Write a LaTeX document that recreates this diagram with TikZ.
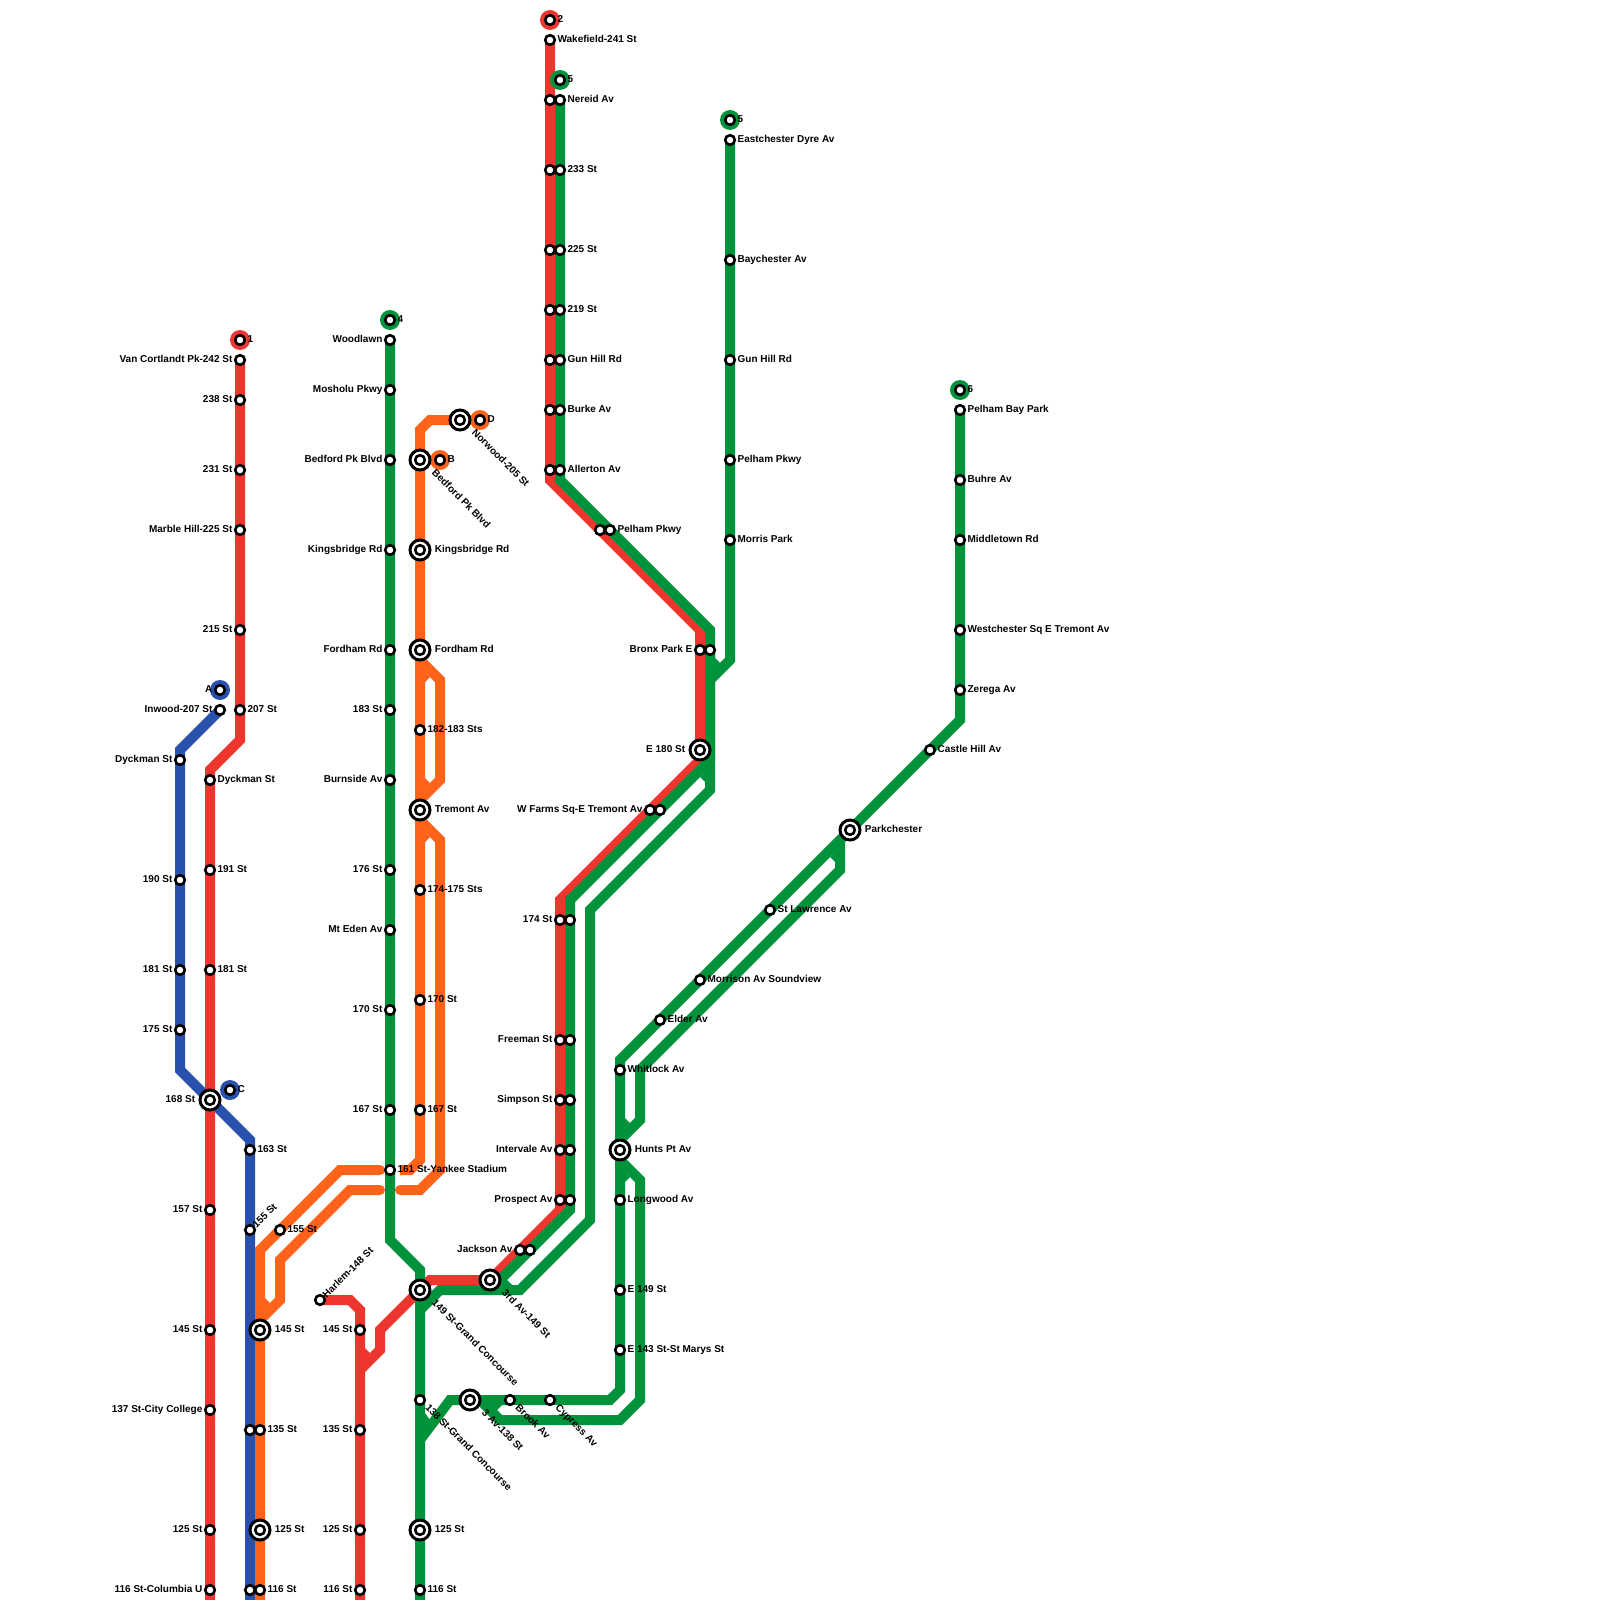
\documentclass[tikz,border=0pt]{standalone}
\usepackage{fontspec}
\setmainfont{Liberation Sans}
\usetikzlibrary{backgrounds}

\definecolor{linered}{HTML}{EE352E}
\definecolor{lineblue}{HTML}{2850AD}
\definecolor{lineorange}{HTML}{FF6319}
\definecolor{linegreen}{HTML}{00933C}

\tikzset{
  stn/.style={circle,draw=black,fill=white,line width=2.6pt,minimum size=9.6pt,inner sep=0pt,outer sep=0pt},
  hub/.style={stn,line width=3pt,minimum size=20pt,
    path picture={\draw[black,line width=2.6pt] (path picture bounding box.center) circle (4.8pt);}},
  lab/.style={font=\fontsize{10}{11}\selectfont\bfseries,inner sep=1pt,text=black,text height=7pt,text depth=0pt,yshift=1pt},
  lr/.style={label={[lab,label distance=1.6pt]right:#1}},
  ll/.style={label={[lab,label distance=1.6pt]left:#1}},
  lu/.style={label={[lab,label distance=2.2pt,rotate=45,anchor=west,xshift=-2.5pt,yshift=-2.5pt]45:#1}},
  ld/.style={label={[lab,label distance=2.2pt,rotate=-45,anchor=west,xshift=2.5pt,yshift=2pt]-45:#1}},
  hr/.style={label={[lab,label distance=3.7pt]right:#1}},
  hl/.style={label={[lab,label distance=3.7pt]left:#1}},
  hd/.style={label={[lab,label distance=3.7pt,rotate=-45,anchor=west,xshift=4.5pt,yshift=4pt]-45:#1}},
  track/.style={line width=10pt,miter limit=10},
  trackred/.style={track,draw=linered},
  trackblue/.style={track,draw=lineblue},
  trackorange/.style={track,draw=lineorange},
  trackgreen/.style={track,draw=linegreen},
}

\begin{document}
\begin{tikzpicture}[x=1pt,y=-1pt]
  \useasboundingbox (0,0) rectangle (1600,1600);

  % 1 line
  \node[stn,lr=1] (term1) at (240,340) {};
  \node[stn,ll={Van Cortlandt Pk-242 St}] (vancortlandt) at (240,360) {};
  \node[stn,ll={238 St}] (st238) at (240,400) {};
  \node[stn,ll={231 St}] (st231) at (240,470) {};
  \node[stn,ll={Marble Hill-225 St}] (marblehill) at (240,530) {};
  \node[stn,ll={215 St}] (st215) at (240,630) {};
  \node[stn,lr={207 St}] (st207) at (240,710) {};
  \node[stn,lr={Dyckman St}] (dyckman1) at (210,780) {};
  \node[stn,lr={191 St}] (st191) at (210,870) {};
  \node[stn,lr={181 St}] (st181r) at (210,970) {};
  \node[hub,hl={168 St}] (st168) at (210,1100) {};
  \node[stn,ll={157 St}] (st157) at (210,1210) {};
  \node[stn,ll={145 St}] (st145r) at (210,1330) {};
  \node[stn,ll={137 St-City College}] (st137) at (210,1410) {};
  \node[stn,ll={125 St}] (st125r) at (210,1530) {};
  \node[stn,ll={116 St-Columbia U}] (columbia) at (210,1590) {};

  % A and C lines
  \node[stn,ll=A] (termA) at (220,690) {};
  \node[stn,ll={Inwood-207 St}] (inwood) at (220,710) {};
  \node[stn,ll={Dyckman St}] (dyckmanA) at (180,760) {};
  \node[stn,ll={190 St}] (st190) at (180,880) {};
  \node[stn,ll={181 St}] (st181a) at (180,970) {};
  \node[stn,ll={175 St}] (st175) at (180,1030) {};
  \node[stn,lr=C] (termC) at (230,1090) {};
  \node[stn,lr={163 St}] (st163) at (250,1150) {};
  \node[stn,lu={155 St}] (st155a) at (250,1230) {};
  \node[stn] (st135a) at (250,1430) {};
  \node[stn] (st116a) at (250,1590) {};

  % B and D lines
  \node[stn,lr=D] (termD) at (480,420) {};
  \node[hub,hd={Norwood-205 St}] (norwood) at (460,420) {};
  \node[stn,lr=B] (termB) at (440,460) {};
  \node[hub,hd={Bedford Pk Blvd}] (bedfordo) at (420,460) {};
  \node[hub,hr={Kingsbridge Rd}] (kingsbridgeo) at (420,550) {};
  \node[hub,hr={Fordham Rd}] (fordhamo) at (420,650) {};
  \node[stn,lr={182-183 Sts}] (st182) at (420,730) {};
  \node[hub,hr={Tremont Av}] (tremont) at (420,810) {};
  \node[stn,lr={174-175 Sts}] (st174o) at (420,890) {};
  \node[stn,lr={170 St}] (st170o) at (420,1000) {};
  \node[stn,lr={167 St}] (st167o) at (420,1110) {};
  \node[stn,lr={155 St}] (st155o) at (280,1230) {};
  \node[hub,hr={145 St}] (st145o) at (260,1330) {};
  \node[stn,lr={135 St}] (st135o) at (260,1430) {};
  \node[hub,hr={125 St}] (st125o) at (260,1530) {};
  \node[stn,lr={116 St}] (st116o) at (260,1590) {};

  % 4 line
  \node[stn,lr=4] (term4) at (390,320) {};
  \node[stn,ll=Woodlawn] (woodlawn) at (390,340) {};
  \node[stn,ll={Mosholu Pkwy}] (mosholu) at (390,390) {};
  \node[stn,ll={Bedford Pk Blvd}] (bedfordg) at (390,460) {};
  \node[stn,ll={Kingsbridge Rd}] (kingsbridgeg) at (390,550) {};
  \node[stn,ll={Fordham Rd}] (fordhamg) at (390,650) {};
  \node[stn,ll={183 St}] (st183) at (390,710) {};
  \node[stn,ll={Burnside Av}] (burnside) at (390,780) {};
  \node[stn,ll={176 St}] (st176) at (390,870) {};
  \node[stn,ll={Mt Eden Av}] (mteden) at (390,930) {};
  \node[stn,ll={170 St}] (st170g) at (390,1010) {};
  \node[stn,ll={167 St}] (st167g) at (390,1110) {};
  \node[stn,lr={161 St-Yankee Stadium}] (yankee) at (390,1170) {};
  \node[hub,hd={149 St-Grand Concourse}] (grand149) at (420,1290) {};
  \node[stn,ld={138 St-Grand Concourse}] (grand138) at (420,1400) {};
  \node[hub,hr={125 St}] (st125g) at (420,1530) {};
  \node[stn,lr={116 St}] (st116g) at (420,1590) {};

  % 2 and 5 lines
  \node[stn,lr=2] (term2) at (550,20) {};
  \node[stn,lr={Wakefield-241 St}] (wakefield) at (550,40) {};
  \node[stn,lr=5] (term5) at (560,80) {};
  \node[stn] (nereidr) at (550,100) {};
  \node[stn,lr={Nereid Av}] (nereidg) at (560,100) {};
  \node[stn] (st233r) at (550,170) {};
  \node[stn,lr={233 St}] (st233g) at (560,170) {};
  \node[stn] (st225r) at (550,250) {};
  \node[stn,lr={225 St}] (st225g) at (560,250) {};
  \node[stn] (st219r) at (550,310) {};
  \node[stn,lr={219 St}] (st219g) at (560,310) {};
  \node[stn] (gunhillr) at (550,360) {};
  \node[stn,lr={Gun Hill Rd}] (gunhillg) at (560,360) {};
  \node[stn] (burker) at (550,410) {};
  \node[stn,lr={Burke Av}] (burkeg) at (560,410) {};
  \node[stn] (allertonr) at (550,470) {};
  \node[stn,lr={Allerton Av}] (allertong) at (560,470) {};
  \node[stn] (pelhamr) at (600,530) {};
  \node[stn,lr={Pelham Pkwy}] (pelhamg) at (610,530) {};
  \node[stn,ll={Bronx Park E}] (bronxr) at (700,650) {};
  \node[stn] (bronxg) at (710,650) {};
  \node[hub,hl={E 180 St}] (e180) at (700,750) {};
  \node[stn,ll={W Farms Sq-E Tremont Av}] (wfarmsr) at (650,810) {};
  \node[stn] (wfarmsg) at (660,810) {};
  \node[stn,ll={174 St}] (st174r) at (560,920) {};
  \node[stn] (st174g) at (570,920) {};
  \node[stn,ll={Freeman St}] (freemanr) at (560,1040) {};
  \node[stn] (freemang) at (570,1040) {};
  \node[stn,ll={Simpson St}] (simpsonr) at (560,1100) {};
  \node[stn] (simpsong) at (570,1100) {};
  \node[stn,ll={Intervale Av}] (intervaler) at (560,1150) {};
  \node[stn] (intervaleg) at (570,1150) {};
  \node[stn,ll={Prospect Av}] (prospectr) at (560,1200) {};
  \node[stn] (prospectg) at (570,1200) {};
  \node[stn,ll={Jackson Av}] (jacksonr) at (520,1250) {};
  \node[stn] (jacksong) at (530,1250) {};
  \node[hub,hd={3rd Av-149 St}] (third149) at (490,1280) {};
  \node[stn,lu={Harlem-148 St}] (harlem) at (320,1300) {};
  \node[stn,ll={145 St}] (st145h) at (360,1330) {};
  \node[stn,ll={135 St}] (st135h) at (360,1430) {};
  \node[stn,ll={125 St}] (st125h) at (360,1530) {};
  \node[stn,ll={116 St}] (st116h) at (360,1590) {};

  % Dyre Av branch
  \node[stn,lr=5] (termdyre) at (730,120) {};
  \node[stn,lr={Eastchester Dyre Av}] (dyre) at (730,140) {};
  \node[stn,lr={Baychester Av}] (baychester) at (730,260) {};
  \node[stn,lr={Gun Hill Rd}] (gunhilld) at (730,360) {};
  \node[stn,lr={Pelham Pkwy}] (pelhamd) at (730,460) {};
  \node[stn,lr={Morris Park}] (morris) at (730,540) {};

  % 6 line
  \node[stn,lr=6] (term6) at (960,390) {};
  \node[stn,lr={Pelham Bay Park}] (pelhambay) at (960,410) {};
  \node[stn,lr={Buhre Av}] (buhre) at (960,480) {};
  \node[stn,lr={Middletown Rd}] (middletown) at (960,540) {};
  \node[stn,lr={Westchester Sq E Tremont Av}] (westchester) at (960,630) {};
  \node[stn,lr={Zerega Av}] (zerega) at (960,690) {};
  \node[stn,lr={Castle Hill Av}] (castle) at (930,750) {};
  \node[hub,hr={Parkchester}] (parkchester) at (850,830) {};
  \node[stn,lr={St Lawrence Av}] (lawrence) at (770,910) {};
  \node[stn,lr={Morrison Av Soundview}] (morrison) at (700,980) {};
  \node[stn,lr={Elder Av}] (elder) at (660,1020) {};
  \node[stn,lr={Whitlock Av}] (whitlock) at (620,1070) {};
  \node[hub,hr={Hunts Pt Av}] (hunts) at (620,1150) {};
  \node[stn,lr={Longwood Av}] (longwood) at (620,1200) {};
  \node[stn,lr={E 149 St}] (e149) at (620,1290) {};
  \node[stn,lr={E 143 St-St Marys St}] (e143) at (620,1350) {};
  \node[stn,ld={Cypress Av}] (cypress) at (550,1400) {};
  \node[stn,ld={Brook Av}] (brook) at (510,1400) {};
  \node[hub,hd={3 Av-138 St}] (third138) at (470,1400) {};

  \begin{scope}[on background layer]
    \draw[trackblue] (inwood.center) -- (180,750) -- (180,1070) -- (250,1140) -- (250,1600);
    \fill[lineblue] (termA.center) circle (10pt);
    \fill[lineblue] (termC.center) circle (10pt);

    \draw[trackred] (vancortlandt.center) -- (240,740) -- (210,770) -- (210,1600);
    \draw[trackred] (harlem.center) -- (350,1300) -- (360,1310) -- (360,1600);
    \draw[trackred] (wakefield.center) -- (550,480) -- (700,630) -- (700,760) -- (560,900) -- (560,1210) -- (third149.center) -- (430,1280) -- (grand149.center) -- (380,1330) -- (380,1350) -- (360,1370);
    \fill[linered] (365,1348) -- (370,1353) -- (365,1358) -- cycle;
    \fill[linered] (term1.center) circle (10pt);
    \fill[linered] (term2.center) circle (10pt);

    \draw[trackorange] (norwood.center) -- (430,420) -- (420,430) -- (420,1160) -- (410,1170) -- (400,1170);
    \draw[trackorange] (fordhamo.center) -- (420,660) -- (440,680) -- (440,780) -- (420,800) -- (tremont.center);
    \draw[trackorange,line cap=round] (tremont.center) -- (420,820) -- (440,840) -- (440,1170) -- (420,1190) -- (400,1190);
    \draw[trackorange,line cap=round] (380,1170) -- (340,1170) -- (260,1250) -- (260,1600);
    \draw[trackorange,line cap=round] (380,1190) -- (350,1190) -- (280,1260) -- (280,1300) -- (260,1320);
    \fill[lineorange] (425,672) -- (430,677) -- (425,682) -- cycle;
    \fill[lineorange] (425,778) -- (430,783) -- (425,788) -- cycle;
    \fill[lineorange] (425,832) -- (430,837) -- (425,842) -- cycle;
    \fill[lineorange] (265,1298) -- (270,1303) -- (265,1308) -- cycle;
    \fill[lineorange] (termD.center) circle (10pt);
    \fill[lineorange] (termB.center) circle (10pt);

    \draw[trackgreen] (woodlawn.center) -- (390,1240) -- (420,1270) -- (420,1600);
    \draw[trackgreen] (nereidg.center) -- (560,480) -- (710,630) -- (710,760) -- (570,900) -- (570,1210) -- (500,1280) -- (510,1290);
    \draw[trackgreen] (bronxg.center) -- (710,790) -- (590,910) -- (590,1220) -- (520,1290) -- (440,1290) -- (420,1310);
    \draw[trackgreen] (dyre.center) -- (730,660) -- (710,680);
    \draw[trackgreen] (pelhambay.center) -- (960,720) -- (620,1060) -- (620,1390) -- (610,1400) -- (450,1400) -- (420,1440);
    \draw[trackgreen] (840,840) -- (840,870) -- (640,1070) -- (640,1120) -- (620,1140);
    \draw[trackgreen] (620,1160) -- (640,1180) -- (640,1400) -- (620,1420) -- (500,1420) -- (480,1400);
    \fill[linegreen] (715,658) -- (720,663) -- (715,668) -- cycle;
    \fill[linegreen] (705,772) -- (700,777) -- (705,782) -- cycle;
    \fill[linegreen] (835,852) -- (830,857) -- (835,862) -- cycle;
    \fill[linegreen] (625,1118) -- (630,1123) -- (625,1128) -- cycle;
    \fill[linegreen] (625,1172) -- (630,1177) -- (625,1182) -- cycle;
    \fill[linegreen] (492,1405) -- (497,1410) -- (502,1405) -- cycle;
    \fill[linegreen] (425,1413) -- (430,1420) -- (425,1426) -- cycle;
    \fill[linegreen] (term4.center) circle (10pt);
    \fill[linegreen] (term5.center) circle (10pt);
    \fill[linegreen] (termdyre.center) circle (10pt);
    \fill[linegreen] (term6.center) circle (10pt);
  \end{scope}
\end{tikzpicture}
\end{document}
